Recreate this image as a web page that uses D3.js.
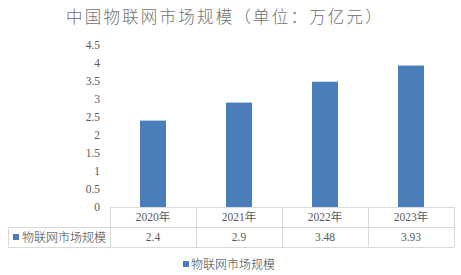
<!DOCTYPE html>
<html lang="zh">
<head>
<meta charset="utf-8">
<title>中国物联网市场规模</title>
<script src="https://cdn.jsdelivr.net/npm/d3@7"></script>
<style>
  body { margin: 0; background: #fff; }
  svg text { font-family: "Liberation Serif", "Noto Sans CJK SC", serif; }
</style>
</head>
<body>
<script>
var categories = ["2020年", "2021年", "2022年", "2023年"];
var values = [2.4, 2.9, 3.48, 3.93];
var valueLabels = ["2.4", "2.9", "3.48", "3.93"];
var yTicks = [0, 0.5, 1, 1.5, 2, 2.5, 3, 3.5, 4, 4.5];
var seriesName = "物联网市场规模";
var title = "中国物联网市场规模（单位：万亿元）";

var width = 461, height = 275;
var plotLeft = 110, plotRight = 454, plotTop = 45, plotBottom = 207;
var rowH = 20;
var labelLeft = 8;
var grey = "#595959", border = "#d9d9d9", barColor = "#4a7ebb";

var svg = d3.select("body").append("svg")
  .attr("width", width)
  .attr("height", height);

svg.append("text")
  .attr("x", 225)
  .attr("y", 23)
  .attr("text-anchor", "middle")
  .attr("font-size", 16.5)
  .attr("letter-spacing", 2.2)
  .attr("fill", "#707070")
  .style("font-family", "'Noto Sans CJK SC', serif")
  .style("font-weight", 300)
  .text(title);

var x = d3.scaleBand().domain(categories).range([plotLeft, plotRight]).paddingInner(0).paddingOuter(0);
var y = d3.scaleLinear().domain([0, 4.5]).range([plotBottom, plotTop]);

// y axis labels
var yAxis = d3.axisLeft(y).tickValues(yTicks).tickSize(0).tickPadding(10)
  .tickFormat(function (d) { return String(d); });
var ya = svg.append("g").attr("transform", "translate(" + plotLeft + ",0)").call(yAxis);
ya.select(".domain").remove();
ya.selectAll("text").attr("fill", grey).attr("font-size", 11.5)
  .style("font-family", "'Liberation Serif', serif");

// bars
var bw = 26;
svg.selectAll("rect.bar")
  .data(values)
  .enter()
  .append("rect")
  .attr("class", "bar")
  .attr("x", function (d, i) { return x(categories[i]) + x.bandwidth() / 2 - bw / 2; })
  .attr("y", function (d) { return y(d); })
  .attr("width", bw)
  .attr("height", function (d) { return y(0) - y(d); })
  .attr("fill", barColor);

// data table
var t = svg.append("g").attr("stroke", border).attr("stroke-width", 1).attr("fill", "none");
t.append("line").attr("x1", plotLeft).attr("x2", plotRight).attr("y1", plotBottom + 0.5).attr("y2", plotBottom + 0.5);
t.append("line").attr("x1", labelLeft).attr("x2", plotRight).attr("y1", plotBottom + rowH + 0.5).attr("y2", plotBottom + rowH + 0.5);
t.append("line").attr("x1", labelLeft).attr("x2", plotRight).attr("y1", plotBottom + 2 * rowH + 0.5).attr("y2", plotBottom + 2 * rowH + 0.5);
t.append("line").attr("x1", labelLeft + 0.5).attr("x2", labelLeft + 0.5).attr("y1", plotBottom + rowH).attr("y2", plotBottom + 2 * rowH);
var edges = categories.map(function (c) { return x(c); }).concat([plotRight]);
t.selectAll("line.v")
  .data(edges)
  .enter()
  .append("line")
  .attr("class", "v")
  .attr("x1", function (d) { return Math.round(d) + 0.5; })
  .attr("x2", function (d) { return Math.round(d) + 0.5; })
  .attr("y1", plotBottom)
  .attr("y2", plotBottom + 2 * rowH);

svg.selectAll("text.cat")
  .data(categories)
  .enter()
  .append("text")
  .attr("class", "cat")
  .attr("x", function (d) { return x(d) + x.bandwidth() / 2; })
  .attr("y", plotBottom + rowH / 2 + 4)
  .attr("text-anchor", "middle")
  .attr("font-size", 11.5)
  .attr("fill", grey)
  .text(function (d) { return d; });

svg.selectAll("text.val")
  .data(valueLabels)
  .enter()
  .append("text")
  .attr("class", "val")
  .attr("x", function (d, i) { return x(categories[i]) + x.bandwidth() / 2; })
  .attr("y", plotBottom + rowH * 1.5 + 4)
  .attr("text-anchor", "middle")
  .attr("font-size", 11.5)
  .attr("fill", grey)
  .text(function (d) { return d; });

// row label with legend key
svg.append("rect")
  .attr("x", 13).attr("y", plotBottom + rowH * 1.5 - 3)
  .attr("width", 6).attr("height", 6)
  .attr("fill", barColor);
svg.append("text")
  .attr("x", 22)
  .attr("y", plotBottom + rowH * 1.5 + 4.5)
  .attr("font-size", 12)
  .attr("fill", "#404040")
  .style("font-family", "'Noto Sans CJK SC', serif")
  .style("font-weight", 300)
  .text(seriesName);

// legend
svg.append("rect")
  .attr("x", 183).attr("y", 261)
  .attr("width", 6).attr("height", 6)
  .attr("fill", barColor);
svg.append("text")
  .attr("x", 191)
  .attr("y", 268.5)
  .attr("font-size", 12)
  .attr("fill", "#404040")
  .style("font-family", "'Noto Sans CJK SC', serif")
  .style("font-weight", 300)
  .text(seriesName);
</script>
</body>
</html>
